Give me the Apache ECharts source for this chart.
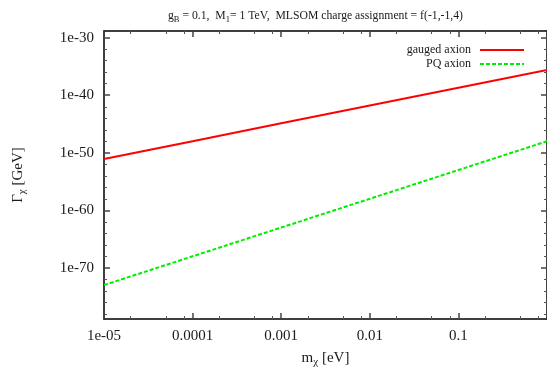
<!DOCTYPE html>
<html>
<head>
<meta charset="utf-8">
<script src="https://cdn.jsdelivr.net/npm/echarts@6/dist/echarts.min.js"></script>
<style>
  html, body { margin: 0; padding: 0; background: #fff; }
  #chart { width: 547px; height: 376px; }
</style>
</head>
<body>
<div id="chart"></div>
<script>
// values (log-log plot)
const mass = [1e-5, 1e-4, 1e-3, 1e-2, 1e-1, 1];
const gaugedAxion = [8e-52, 1e-48, 1.3e-45, 1.6e-42, 2e-39, 2.5e-36];
const pqAxion = [1e-73, 1e-68, 1e-63, 1e-58, 1e-53, 1e-48];

const xTickValues = [1e-5, 1e-4, 1e-3, 1e-2, 1e-1];
const xTickLabels = ['1e-05', '0.0001', '0.001', '0.01', '0.1'];
const xMinorFactors = [2, 5, 8];
const yTickValues = [1e-70, 1e-60, 1e-50, 1e-40, 1e-30];
const yTickLabels = ['1e-70', '1e-60', '1e-50', '1e-40', '1e-30'];

const lg = Math.log10;
const FONT = 'Liberation Serif';
const TXT = '#1a1a1a';

// axis ranges in log10 space
const xMin = lg(1e-5), xMax = lg(1);
const yMin = -78.9, yMax = -28.83;

const xMajor = xTickValues.map(lg).concat([xMax]);
const xMinor = [];
xTickValues.forEach(v => xMinorFactors.forEach(f => xMinor.push(lg(v) + lg(f))));
const yMajor = yTickValues.map(lg);
const yMinor = [];
for (let e = -78; e <= -30; e += 2) if (e % 10 !== 0) yMinor.push(e);

function labelFor(vals, labels) {
  return function (v) {
    const i = vals.findIndex(t => Math.abs(lg(t) - v) < 1e-6);
    return i < 0 ? '' : labels[i];
  };
}

function baseAxis(min, max, position, extra) {
  return Object.assign({
    type: 'value',
    min: min,
    max: max,
    position: position,
    splitLine: { show: false },
    axisLine: { show: false, onZero: false },
    axisLabel: { show: false },
    axisTick: { show: false }
  }, extra);
}

function majorTicks(values) {
  return { show: true, inside: true, length: 6, customValues: values, lineStyle: { color: '#444', width: 1.5 } };
}
function minorTicks(values) {
  return { show: true, inside: true, length: 3, customValues: values, lineStyle: { color: '#555', width: 1 } };
}
const frameLine = { show: true, onZero: false, lineStyle: { color: '#000', width: 1.5 } };

const chart = echarts.init(document.getElementById('chart'));

const option = {
  animation: false,
  backgroundColor: '#fff',
  title: {
    text: '{t|g}{s|B}{t| = 0.1,  M}{s|1}{t|= 1 TeV,  MLSOM charge assignment = f(-1,-1,4)}',
    left: 163,
    top: 3,
    textStyle: {
      fontWeight: 'normal',
      rich: {
        t: { fontFamily: FONT, fontSize: 11.7, fontWeight: 'normal', color: TXT },
        s: { fontFamily: FONT, fontSize: 8.5, fontWeight: 'normal', color: TXT, padding: [7, 0, 0, 0] }
      }
    }
  },
  legend: {
    data: ['gauged axion', 'PQ axion'],
    orient: 'vertical',
    right: 17,
    top: 39,
    align: 'right',
    itemWidth: 44,
    itemHeight: 14,
    itemGap: 2,
    itemStyle: { opacity: 0 },
    textStyle: { fontFamily: FONT, fontSize: 12, color: TXT, padding: [0, 4, 0, 0] }
  },
  grid: { left: 104, top: 31, right: -2, bottom: 57 },
  xAxis: [
    baseAxis(xMin, xMax, 'bottom', {
      axisLine: frameLine,
      axisTick: majorTicks(xMajor),
      axisLabel: {
        show: true,
        customValues: xTickValues.map(lg),
        formatter: labelFor(xTickValues, xTickLabels),
        margin: 10,
        fontFamily: FONT,
        fontSize: 15,
        color: TXT
      },
      name: '{m|m}{s|χ}{m| [eV]}',
      nameLocation: 'middle',
      nameGap: 30,
      nameTextStyle: {
        rich: {
          m: { fontFamily: FONT, fontSize: 15, color: TXT },
          s: { fontFamily: FONT, fontSize: 11, color: TXT, padding: [8, 0, 0, 0] }
        }
      }
    }),
    baseAxis(xMin, xMax, 'bottom', { axisTick: minorTicks(xMinor) }),
    baseAxis(xMin, xMax, 'top', { axisLine: frameLine, axisTick: majorTicks(xMajor) }),
    baseAxis(xMin, xMax, 'top', { axisTick: minorTicks(xMinor) })
  ],
  yAxis: [
    baseAxis(yMin, yMax, 'left', {
      axisLine: frameLine,
      axisTick: majorTicks(yMajor),
      axisLabel: {
        show: true,
        customValues: yMajor,
        formatter: labelFor(yTickValues, yTickLabels),
        margin: 10,
        fontFamily: FONT,
        fontSize: 15,
        color: TXT
      },
      name: '{g|Γ}{s|χ}{g| [GeV]}',
      nameLocation: 'middle',
      nameGap: 76,
      nameTextStyle: {
        rich: {
          g: { fontFamily: FONT, fontSize: 15, color: TXT },
          s: { fontFamily: FONT, fontSize: 11, color: TXT, padding: [8, 0, 0, 0] }
        }
      }
    }),
    baseAxis(yMin, yMax, 'left', { axisTick: minorTicks(yMinor) }),
    baseAxis(yMin, yMax, 'right', { axisLine: frameLine, axisTick: majorTicks(yMajor) }),
    baseAxis(yMin, yMax, 'right', { axisTick: minorTicks(yMinor) })
  ],
  series: [
    {
      name: 'gauged axion',
      type: 'line',
      xAxisIndex: 0,
      yAxisIndex: 0,
      symbol: 'none',
      color: '#ff0000',
      lineStyle: { color: '#ff0000', width: 2 },
      data: mass.map((m, i) => [lg(m), lg(gaugedAxion[i])])
    },
    {
      name: 'PQ axion',
      type: 'line',
      xAxisIndex: 0,
      yAxisIndex: 0,
      symbol: 'none',
      color: '#00ee00',
      lineStyle: { color: '#00ee00', width: 2, type: [4, 2] },
      data: mass.map((m, i) => [lg(m), lg(pqAxion[i])])
    }
  ]
};

chart.setOption(option);
</script>
</body>
</html>
